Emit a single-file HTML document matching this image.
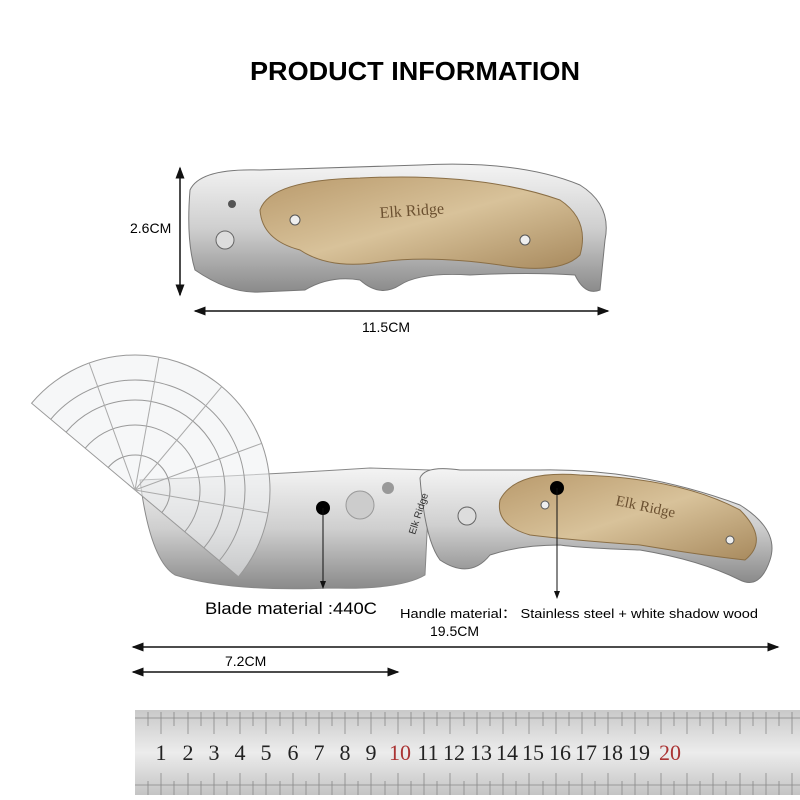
<!DOCTYPE html>
<html><head><style>
body{margin:0;background:#fff;}
svg{display:block;font-family:"Liberation Sans",sans-serif;}
</style></head><body>
<svg width="800" height="800" viewBox="0 0 800 800" xmlns="http://www.w3.org/2000/svg">
<defs>
<marker id="a" markerWidth="8" markerHeight="8" refX="7" refY="4" orient="auto-start-reverse"><path d="M0,1 L8,4 L0,7z" fill="#111"/></marker>
<linearGradient id="steel" x1="0" y1="0" x2="0" y2="1"><stop offset="0" stop-color="#f4f4f4"/><stop offset="0.5" stop-color="#cfcfcf"/><stop offset="1" stop-color="#8a8a8a"/></linearGradient>
<linearGradient id="wood" x1="0" y1="0" x2="1" y2="1"><stop offset="0" stop-color="#b99a6c"/><stop offset="0.5" stop-color="#d8c29a"/><stop offset="1" stop-color="#a88a5e"/></linearGradient>
<linearGradient id="rul" x1="0" y1="0" x2="0" y2="1"><stop offset="0" stop-color="#c9c9c9"/><stop offset="0.5" stop-color="#ececec"/><stop offset="1" stop-color="#c4c4c4"/></linearGradient>
</defs>
<text x="415" y="80" text-anchor="middle" font-size="26" font-weight="bold" textLength="330" lengthAdjust="spacingAndGlyphs">PRODUCT INFORMATION</text>

<!-- top knife -->
<path d="M190,190 Q200,168 260,170 L420,165 Q520,160 580,185 Q612,205 605,240 L600,290 Q585,296 575,275 Q530,272 470,275 Q420,272 400,285 Q380,298 360,280 Q330,275 305,290 L260,292 Q230,294 195,270 Q186,240 190,190Z" fill="url(#steel)" stroke="#777"/>
<path d="M260,210 Q270,180 360,178 Q480,172 560,200 Q590,220 580,255 Q560,275 500,265 Q430,255 380,262 Q330,270 300,250 Q262,240 260,210Z" fill="url(#wood)" stroke="#8a6e45"/>
<text x="380" y="218" font-size="16" fill="#6b5030" font-family="Liberation Serif,serif" transform="rotate(-4 380 218)">Elk Ridge</text>
<circle cx="225" cy="240" r="9" fill="#ddd" stroke="#666"/><circle cx="295" cy="220" r="5" fill="#eee" stroke="#555"/><circle cx="525" cy="240" r="5" fill="#eee" stroke="#555"/><circle cx="232" cy="204" r="4" fill="#555"/>
<line x1="180" y1="168" x2="180" y2="295" stroke="#111" stroke-width="1.5" marker-start="url(#a)" marker-end="url(#a)"/>
<text x="130" y="233" font-size="14">2.6CM</text>
<line x1="195" y1="311" x2="608" y2="311" stroke="#111" stroke-width="1.5" marker-start="url(#a)" marker-end="url(#a)"/>
<text x="386" y="332" font-size="14" text-anchor="middle">11.5CM</text>

<!-- bottom blade -->
<path d="M140,480 Q260,475 370,468 L430,470 L425,575 Q400,590 330,588 Q230,592 175,575 Q150,560 140,480Z" fill="url(#steel)" stroke="#888"/>
<circle cx="360" cy="505" r="14" fill="#ccc" stroke="#999"/>
<circle cx="388" cy="488" r="6" fill="#999"/>

<!-- protractor -->
<g transform="rotate(40 135 490)" fill="none" stroke="#999" stroke-width="1">
<path d="M0,490 A135,135 0 0 1 270,490 Z" fill="#eef0f2" fill-opacity="0.55" stroke="#999"/>
<path d="M25,490 A110,110 0 0 1 245,490" /><path d="M45,490 A90,90 0 0 1 225,490"/><path d="M70,490 A65,65 0 0 1 200,490"/><path d="M100,490 A35,35 0 0 1 170,490"/>
<g stroke="#aaa"><line x1="135" y1="490" x2="18" y2="422"/><line x1="135" y1="490" x2="68" y2="373"/><line x1="135" y1="490" x2="135" y2="355"/><line x1="135" y1="490" x2="202" y2="373"/><line x1="135" y1="490" x2="252" y2="422"/></g>
</g>

<!-- handle -->
<path d="M420,478 Q425,465 460,470 L540,470 Q640,468 740,505 Q780,530 770,560 Q760,590 740,580 Q700,560 640,550 Q580,548 560,545 Q520,545 490,555 Q470,580 440,560 Q425,540 420,478Z" fill="url(#steel)" stroke="#777"/>
<path d="M500,500 Q515,470 580,475 Q680,478 740,510 Q770,540 745,560 Q700,555 640,545 Q570,540 530,535 Q495,525 500,500Z" fill="url(#wood)" stroke="#8a6e45"/>
<text x="615" y="505" font-size="15" fill="#6b5030" font-family="Liberation Serif,serif" transform="rotate(12 615 505)">Elk Ridge</text>
<text x="415" y="535" font-size="10" fill="#333" transform="rotate(-72 415 535)">Elk Ridge</text>
<circle cx="467" cy="516" r="9" fill="#ddd" stroke="#666"/><circle cx="545" cy="505" r="4" fill="#eee" stroke="#555"/><circle cx="730" cy="540" r="4" fill="#eee" stroke="#555"/>

<circle cx="323" cy="508" r="7" fill="#000"/>
<line x1="323" y1="508" x2="323" y2="588" stroke="#111" marker-end="url(#a)"/>
<circle cx="557" cy="488" r="7" fill="#000"/>
<line x1="557" y1="488" x2="557" y2="598" stroke="#111" marker-end="url(#a)"/>
<text x="205" y="614" font-size="17" textLength="172" lengthAdjust="spacingAndGlyphs">Blade material :440C</text>
<text x="400" y="618" font-size="13" textLength="358" lengthAdjust="spacingAndGlyphs">Handle material： Stainless steel + white shadow wood</text>
<text x="430" y="636" font-size="14">19.5CM</text>
<line x1="133" y1="647" x2="778" y2="647" stroke="#111" stroke-width="1.5" marker-start="url(#a)" marker-end="url(#a)"/>
<text x="225" y="666" font-size="14">7.2CM</text>
<line x1="133" y1="672" x2="398" y2="672" stroke="#111" stroke-width="1.5" marker-start="url(#a)" marker-end="url(#a)"/>

<!-- ruler -->
<rect x="135" y="710" width="665" height="85" fill="url(#rul)"/>
<path d="M135,718 H800 M135,785 H800" stroke="#999"/>
<g stroke="#888" stroke-width="0.8">
<path d="M148,712v14M148,795v-14M161,712v22M161,795v-22M174,712v14M174,795v-14M188,712v22M188,795v-22M201,712v14M201,795v-14M214,712v22M214,795v-22M227,712v14M227,795v-14M240,712v22M240,795v-22M253,712v14M253,795v-14M266,712v22M266,795v-22M280,712v14M280,795v-14M293,712v22M293,795v-22M306,712v14M306,795v-14M319,712v22M319,795v-22M332,712v14M332,795v-14M345,712v22M345,795v-22M358,712v14M358,795v-14M371,712v22M371,795v-22M385,712v14M385,795v-14M398,712v22M398,795v-22M411,712v14M411,795v-14M424,712v22M424,795v-22M437,712v14M437,795v-14M450,712v22M450,795v-22M464,712v14M464,795v-14M477,712v22M477,795v-22M490,712v14M490,795v-14M503,712v22M503,795v-22M516,712v14M516,795v-14M529,712v22M529,795v-22M543,712v14M543,795v-14M556,712v22M556,795v-22M569,712v14M569,795v-14M582,712v22M582,795v-22M595,712v14M595,795v-14M608,712v22M608,795v-22M622,712v14M622,795v-14M635,712v22M635,795v-22M648,712v14M648,795v-14M661,712v22M661,795v-22M674,712v14M674,795v-14M687,712v22M687,795v-22M700,712v14M700,795v-14M713,712v22M713,795v-22M726,712v14M726,795v-14M740,712v22M740,795v-22M753,712v14M753,795v-14M766,712v22M766,795v-22M779,712v14M779,795v-14M792,712v22M792,795v-22"/>
</g>
<g font-family="Liberation Serif,serif" font-size="22" text-anchor="middle" fill="#222">
<text x="161" y="760">1</text><text x="188" y="760">2</text><text x="214" y="760">3</text><text x="240" y="760">4</text><text x="266" y="760">5</text><text x="293" y="760">6</text><text x="319" y="760">7</text><text x="345" y="760">8</text><text x="371" y="760">9</text>
<text x="400" y="760" fill="#a33">10</text><text x="428" y="760">11</text><text x="454" y="760">12</text><text x="481" y="760">13</text><text x="507" y="760">14</text><text x="533" y="760">15</text><text x="560" y="760">16</text><text x="586" y="760">17</text><text x="612" y="760">18</text><text x="639" y="760">19</text><text x="670" y="760" fill="#a33">20</text>
</g>
</svg>
</body></html>
